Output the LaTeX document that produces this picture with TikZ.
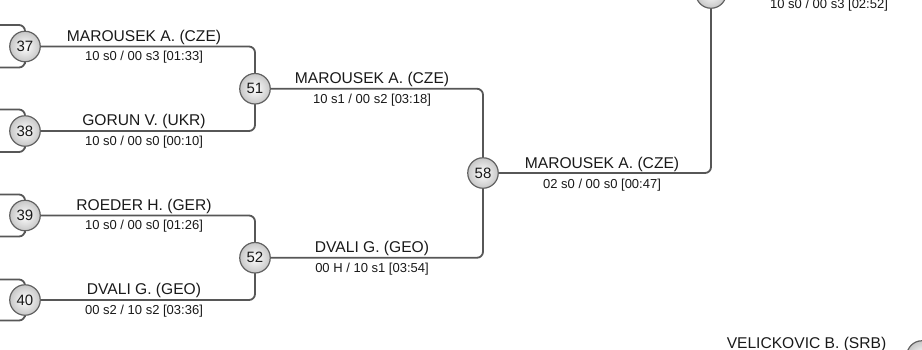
\documentclass[tikz,border=0pt]{standalone}
\usepackage{fontspec}
\setmainfont{Liberation Sans}
\begin{document}
\begin{tikzpicture}[x=1pt,y=-1pt,
  seat/.style={circle,draw=black!62,line width=1.2pt,inner color=white,outer color=black!22,
    minimum size=30.5pt,inner sep=0pt,font=\fontsize{15}{15}\selectfont,text=black!90},
  wire/.style={draw=black!66,line width=1.8pt,rounded corners=6pt},
  pname/.style={anchor=base,inner sep=0pt,font=\fontsize{15.6}{16}\selectfont,text=black!90},
  pscore/.style={anchor=base,inner sep=0pt,font=\fontsize{13}{13}\selectfont,text=black!90}]
\useasboundingbox (0,0) rectangle (922,349);
\clip (0,0) rectangle (922,349);
% feeder coordinates (off the left edge)
\coordinate (f37a) at (-30,25);  \coordinate (f37b) at (-30,67.5);
\coordinate (f38a) at (-30,109.5); \coordinate (f38b) at (-30,152);
\coordinate (f39a) at (-30,194.5); \coordinate (f39b) at (-30,236.5);
\coordinate (f40a) at (-30,279.5); \coordinate (f40b) at (-30,320.5);
\coordinate (ftopR) at (960,-7);
\coordinate (fbrL) at (680,356);
% wires
\draw[wire] (f37a) -| (25,46.5) -- (25,67.5) |- (f37b);
\draw[wire] (f38a) -| (25,131) -- (25,152) |- (f38b);
\draw[wire] (f39a) -| (25,215.5) -- (25,236.5) |- (f39b);
\draw[wire] (f40a) -| (25,300) -- (25,320.5) |- (f40b);
\draw[wire] (25,46.5) -| (255,88.75);
\draw[wire] (25,131) -| (255,88.75);
\draw[wire] (25,215.5) -| (255,257.75);
\draw[wire] (25,300) -| (255,257.75);
\draw[wire] (255,88.75) -| (483,173);
\draw[wire] (255,257.75) -| (483,173);
\draw[wire] (483,173) -| (711,-7);
\draw[wire] (711,-7) -- (ftopR);
\draw[wire] (fbrL) -- (922,356);
% seats
\node[seat] (c37) at (25,46.5) {37};
\node[seat] (c38) at (25,131) {38};
\node[seat] (c39) at (25,215.5) {39};
\node[seat] (c40) at (25,300) {40};
\node[seat] (c51) at (255,88.75) {51};
\node[seat] (c52) at (255,257.75) {52};
\node[seat] (c58) at (483,173) {58};
\node[seat] (ctop) at (711,-7) {};
\node[seat] (cbr) at (922,356) {7\phantom{0}};
% labels
\node[pname] (n37) at (144,41) {MAROUSEK A. (CZE)};
\node[pscore] (s37) at (144,60.5) {10 s0 / 00 s3 [01:33]};
\node[pname] (n38) at (144,125.5) {GORUN V. (UKR)};
\node[pscore] (s38) at (144,145) {10 s0 / 00 s0 [00:10]};
\node[pname] (n39) at (144,210) {ROEDER H. (GER)};
\node[pscore] (s39) at (144,229.5) {10 s0 / 00 s0 [01:26]};
\node[pname] (n40) at (144,294.5) {DVALI G. (GEO)};
\node[pscore] (s40) at (144,314) {00 s2 / 10 s2 [03:36]};
\node[pname] (n51) at (372,83.5) {MAROUSEK A. (CZE)};
\node[pscore] (s51) at (372,103.5) {10 s1 / 00 s2 [03:18]};
\node[pname] (n52) at (372,252.5) {DVALI G. (GEO)};
\node[pscore] (s52) at (372,272.5) {00 H / 10 s1 [03:54]};
\node[pname] (n58) at (602,168) {MAROUSEK A. (CZE)};
\node[pscore] (s58) at (602,188) {02 s0 / 00 s0 [00:47]};
\node[pscore] (stop) at (829,8) {10 s0 / 00 s3 [02:52]};
\node[pname] (nbr) at (806.5,348.3) {VELICKOVIC B. (SRB)};
\end{tikzpicture}
\end{document}
